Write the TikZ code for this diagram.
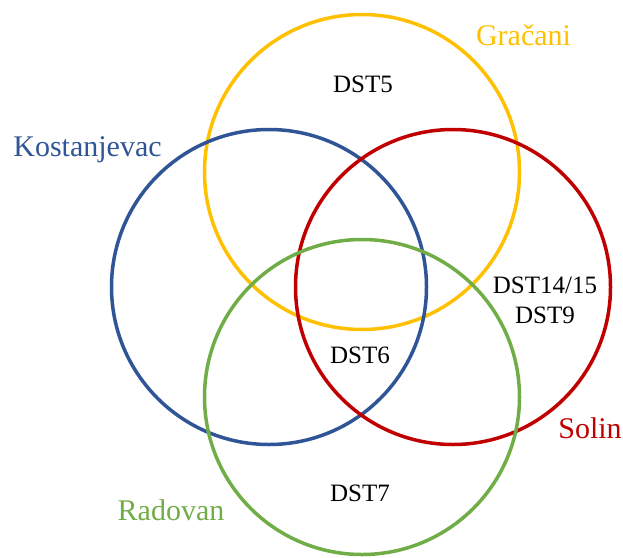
\documentclass[tikz,border=0pt]{standalone}
\usepackage{fontspec}
\setmainfont{Liberation Serif}
\definecolor{cyel}{HTML}{FFC000}
\definecolor{cblu}{HTML}{2F5597}
\definecolor{cred}{HTML}{C00000}
\definecolor{cgrn}{HTML}{70AD47}
\begin{document}
\begin{tikzpicture}[x=1pt,y=-1pt,
  ring/.style={line width=3.5pt},
  setlabel/.style={anchor=base,inner sep=0pt,font=\fontsize{30}{35}\selectfont},
  dst/.style={anchor=base,inner sep=0pt,font=\fontsize{25}{30}\selectfont}]
\useasboundingbox (0,0) rectangle (623,557);
\draw[ring,cyel] (362,172) circle[radius=157.5];
\draw[ring,cblu] (269,287) circle[radius=157.5];
\draw[ring,cred] (453,287) circle[radius=157.5];
\draw[ring,cgrn] (362,397) circle[radius=157.5];
\node[setlabel,text=cyel] (gr) at (523.5,45) {Gračani};
\node[setlabel,text=cblu] (ko) at (87.5,156) {Kostanjevac};
\node[setlabel,text=cred] (so) at (590,438) {Solin};
\node[setlabel,text=cgrn] (ra) at (171,520) {Radovan};
\node[dst] (d5) at (363,92) {DST5};
\node[dst] (d14) at (545,293) {DST14/15};
\node[dst] (d9) at (545,323) {DST9};
\node[dst] (d6) at (360,363) {DST6};
\node[dst] (d7) at (360,501) {DST7};
\end{tikzpicture}
\end{document}
